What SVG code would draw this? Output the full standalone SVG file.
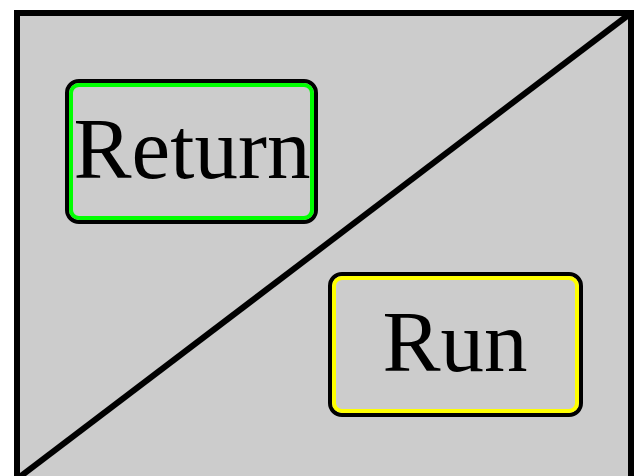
<svg xmlns="http://www.w3.org/2000/svg" width="634" height="476" viewBox="0 0 634 476">
<style>
.bg{fill:#cccccc;stroke:#000;stroke-width:6}
.outer{fill:#cccccc;stroke:#000;stroke-width:4}
.inner{fill:none;stroke-width:4}
.lbl{font-family:"Liberation Serif",serif;font-size:87px;fill:#000;text-anchor:middle}
</style>
<rect width="634" height="476" fill="#ffffff"/>
<g id="frame">
<rect class="bg" x="17" y="13" width="614" height="466"/>
</g>
<g id="connectors">
<line x1="17" y1="479" x2="631" y2="13" stroke="#000" stroke-width="6"/>
</g>
<g id="node-return">
<rect class="outer" x="67" y="81" width="249" height="141" rx="12"/>
<rect class="inner" x="71" y="85" width="241" height="133" rx="8" stroke="#00ff00"/>
<text class="lbl" x="192" y="178">Return</text>
</g>
<g id="node-run">
<rect class="outer" x="330" y="274" width="251" height="141" rx="12"/>
<rect class="inner" x="334" y="278" width="243" height="133" rx="8" stroke="#ffff00"/>
<text class="lbl" x="455" y="371">Run</text>
</g>
</svg>
